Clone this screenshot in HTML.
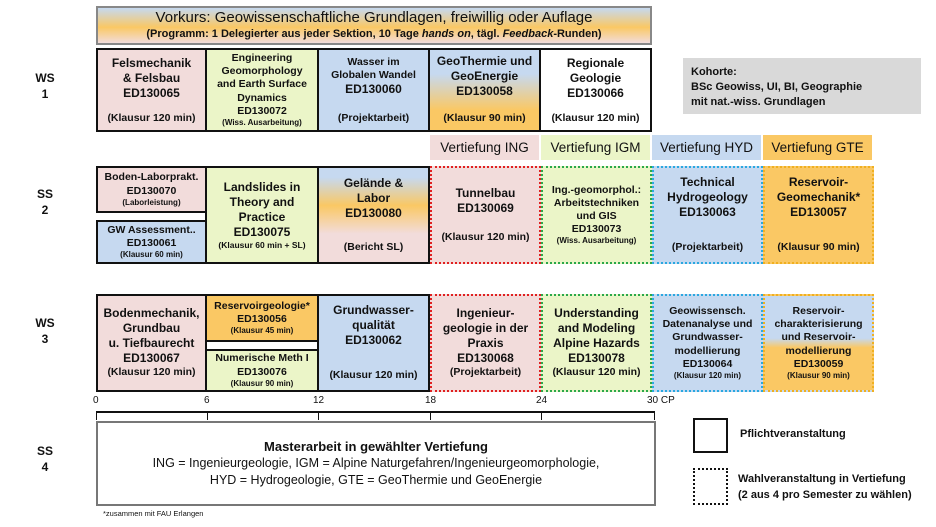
<!DOCTYPE html>
<html><head><meta charset="utf-8"><style>
*{margin:0;padding:0;box-sizing:border-box}
body{width:936px;height:527px;background:#fff;position:relative;overflow:hidden;font-family:"Liberation Sans Narrow","Liberation Sans",sans-serif;color:#111}
.b{position:absolute;display:flex;flex-direction:column;justify-content:center;align-items:center;text-align:center;font-weight:bold;font-size:12px;line-height:1.25;border:2.5px solid #111}
.d{border:2.5px dotted}
.s{font-size:9px;font-weight:bold}
.m{font-size:10.5px}
.pk{background:#f2dcdb}.gr{background:#ebf5c8}.bl{background:#c6d9f0}.or{background:#fac864}
.lab{position:absolute;font-weight:bold;font-size:12px;text-align:center;width:40px;line-height:1.35}
.vt{position:absolute;top:135px;height:25px;width:109px;font-size:13.5px;display:flex;align-items:center;justify-content:center}
.t{position:absolute;font-size:10px;top:395px}
.tk{position:absolute;top:412px;width:1px;height:8px;background:#111}
</style></head><body>
<div class="b" style="left:96px;top:6px;width:556px;height:39px;border:2.5px solid #888;background:linear-gradient(#c6d9f0,#fac864 55%,#f2dcdb);font-weight:normal">
<div style="font-size:15px">Vorkurs: Geowissenschaftliche Grundlagen, freiwillig oder Auflage</div>
<div style="font-size:11px;font-weight:bold">(Programm: 1 Delegierter aus jeder Sektion, 10 Tage <i>hands on</i>, tägl. <i>Feedback</i>-Runden)</div></div>

<div class="lab" style="left:25px;top:70px">WS<br>1</div>
<div class="lab" style="left:25px;top:186px">SS<br>2</div>
<div class="lab" style="left:25px;top:315px">WS<br>3</div>
<div class="lab" style="left:25px;top:443px">SS<br>4</div>

<!-- Row 1 -->
<div class="b pk" style="left:96px;top:48px;width:111px;height:84px;justify-content:space-between;padding:6px 0 5px">
<div>Felsmechanik<br>&amp; Felsbau<br>ED130065</div><div class="m">(Klausur 120 min)</div></div>
<div class="b gr" style="left:205px;top:48px;width:114px;height:84px;font-size:10.5px">Engineering<br>Geomorphology<br>and Earth Surface<br>Dynamics<br>ED130072<div class="s" style="font-size:8px">(Wiss. Ausarbeitung)</div></div>
<div class="b bl" style="left:317px;top:48px;width:113px;height:84px;justify-content:space-between;padding:6px 0 5px">
<div style="font-size:10.5px">Wasser im<br>Globalen Wandel<div style="font-size:12px">ED130060</div></div><div class="m">(Projektarbeit)</div></div>
<div class="b" style="left:428px;top:48px;width:113px;height:84px;justify-content:space-between;padding:4px 0 5px;background:linear-gradient(#c6d9f0 30%,#fac864 75%)">
<div>GeoThermie und<br>GeoEnergie<br>ED130058</div><div class="m">(Klausur 90 min)</div></div>
<div class="b" style="left:539px;top:48px;width:113px;height:84px;justify-content:space-between;padding:6px 0 5px;background:#fff;font-weight:normal">
<div style="font-weight:bold">Regionale<br>Geologie<br>ED130066</div><div class="m" style="font-weight:bold">(Klausur 120 min)</div></div>

<div style="position:absolute;left:683px;top:58px;width:238px;height:56px;background:#d9d9d9;padding:7px 8px;font-size:11px;font-weight:bold;line-height:1.35">Kohorte:<br>BSc Geowiss, UI, BI, Geographie<br>mit nat.-wiss. Grundlagen</div>

<div class="vt pk" style="left:430px">Vertiefung ING</div>
<div class="vt gr" style="left:541px">Vertiefung IGM</div>
<div class="vt bl" style="left:652px">Vertiefung HYD</div>
<div class="vt or" style="left:763px">Vertiefung GTE</div>

<!-- Row 2 -->
<div class="b pk" style="left:96px;top:166px;width:111px;height:47px;font-size:10.5px">Boden-Laborprakt.<br>ED130070<div class="s" style="font-size:8px">(Laborleistung)</div></div>
<div class="b bl" style="left:96px;top:220px;width:111px;height:44px;font-size:10.5px">GW Assessment..<br>ED130061<div class="s" style="font-size:8px">(Klausur 60 min)</div></div>
<div class="b gr" style="left:205px;top:166px;width:114px;height:98px">Landslides in<br>Theory and<br>Practice<br>ED130075<div class="s" style="font-size:8.5px">(Klausur 60 min + SL)</div></div>
<div class="b" style="left:317px;top:166px;width:113px;height:98px;justify-content:space-between;padding:8px 0 8px;background:linear-gradient(#c6d9f0 10%,#fac864 40%,#f2dcdb 70%)">
<div>Gelände &amp;<br>Labor<br>ED130080</div><div class="m">(Bericht SL)</div></div>
<div class="b pk d" style="left:430px;top:166px;width:111px;height:98px;border-color:#e02020">Tunnelbau<br>ED130069<br><br><div class="m">(Klausur 120 min)</div></div>
<div class="b gr d" style="left:541px;top:166px;width:111px;height:98px;border-color:#2aa84a;font-size:10.5px">Ing.-geomorphol.:<br>Arbeitstechniken<br>und GIS<br>ED130073<div class="s" style="font-size:8px">(Wiss. Ausarbeitung)</div></div>
<div class="b bl d" style="left:652px;top:166px;width:111px;height:98px;border-color:#2aa8e0;justify-content:space-between;padding:7px 0 8px"><div>Technical<br>Hydrogeology<br>ED130063</div><div class="m">(Projektarbeit)</div></div>
<div class="b or d" style="left:763px;top:166px;width:111px;height:98px;border-color:#f0b020;justify-content:space-between;padding:7px 0 8px"><div>Reservoir-<br>Geomechanik*<br>ED130057</div><div class="m">(Klausur 90 min)</div></div>

<!-- Row 3 -->
<div class="b pk" style="left:96px;top:294px;width:111px;height:98px">Bodenmechanik,<br>Grundbau<br>u. Tiefbaurecht<br>ED130067<div class="m">(Klausur 120 min)</div></div>
<div class="b or" style="left:205px;top:294px;width:114px;height:48px;font-size:10.5px">Reservoirgeologie*<br>ED130056<div class="s" style="font-size:8px">(Klausur 45 min)</div></div>
<div class="b gr" style="left:205px;top:349px;width:114px;height:43px;font-size:10.5px">Numerische Meth I<br>ED130076<div class="s" style="font-size:8px">(Klausur 90 min)</div></div>
<div class="b bl" style="left:317px;top:294px;width:113px;height:98px;justify-content:space-between;padding:7px 0 8px"><div>Grundwasser-<br>qualität<br>ED130062</div><div class="m">(Klausur 120 min)</div></div>
<div class="b pk d" style="left:430px;top:294px;width:111px;height:98px;border-color:#e02020">Ingenieur-<br>geologie in der<br>Praxis<br>ED130068<div class="m">(Projektarbeit)</div></div>
<div class="b gr d" style="left:541px;top:294px;width:111px;height:98px;border-color:#2aa84a">Understanding<br>and Modeling<br>Alpine Hazards<br>ED130078<div class="m">(Klausur 120 min)</div></div>
<div class="b bl d" style="left:652px;top:294px;width:111px;height:98px;border-color:#2aa8e0;font-size:10.5px">Geowissensch.<br>Datenanalyse und<br>Grundwasser-<br>modellierung<br>ED130064<div class="s" style="font-size:8px">(Klausur 120 min)</div></div>
<div class="b d" style="left:763px;top:294px;width:111px;height:98px;border-color:#f0b020;font-size:10.5px;background:linear-gradient(#c6d9f0 45%,#fac864 55%)">Reservoir-<br>charakterisierung<br>und Reservoir-<br>modellierung<br>ED130059<div class="s" style="font-size:8px">(Klausur 90 min)</div></div>

<!-- axis -->
<div class="t" style="left:93px">0</div>
<div class="t" style="left:204px">6</div>
<div class="t" style="left:313px">12</div>
<div class="t" style="left:425px">18</div>
<div class="t" style="left:536px">24</div>
<div class="t" style="left:647px">30 CP</div>
<div style="position:absolute;left:96px;top:411px;width:559px;height:1.5px;background:#111"></div>
<div class="tk" style="left:96px"></div><div class="tk" style="left:207px"></div><div class="tk" style="left:318px"></div><div class="tk" style="left:430px"></div><div class="tk" style="left:541px"></div><div class="tk" style="left:654px"></div>

<div class="b" style="left:96px;top:421px;width:560px;height:85px;border:2px solid #777;font-weight:normal;font-size:12.5px;line-height:1.35">
<div style="font-weight:bold;font-size:13px">Masterarbeit in gewählter Vertiefung</div>
ING = Ingenieurgeologie, IGM = Alpine Naturgefahren/Ingenieurgeomorphologie,<br>HYD = Hydrogeologie, GTE = GeoThermie und GeoEnergie</div>
<div style="position:absolute;left:103px;top:509px;font-size:7.5px">*zusammen mit FAU Erlangen</div>

<div style="position:absolute;left:693px;top:418px;width:35px;height:35px;border:2.5px solid #111"></div>
<div style="position:absolute;left:740px;top:428px;font-size:11px;font-weight:bold">Pflichtveranstaltung</div>
<div style="position:absolute;left:693px;top:468px;width:35px;height:37px;border:2.5px dotted #111"></div>
<div style="position:absolute;left:738px;top:472px;font-size:11px;font-weight:bold;line-height:1.45">Wahlveranstaltung in Vertiefung<br>(2 aus 4 pro Semester zu wählen)</div>
</body></html>
